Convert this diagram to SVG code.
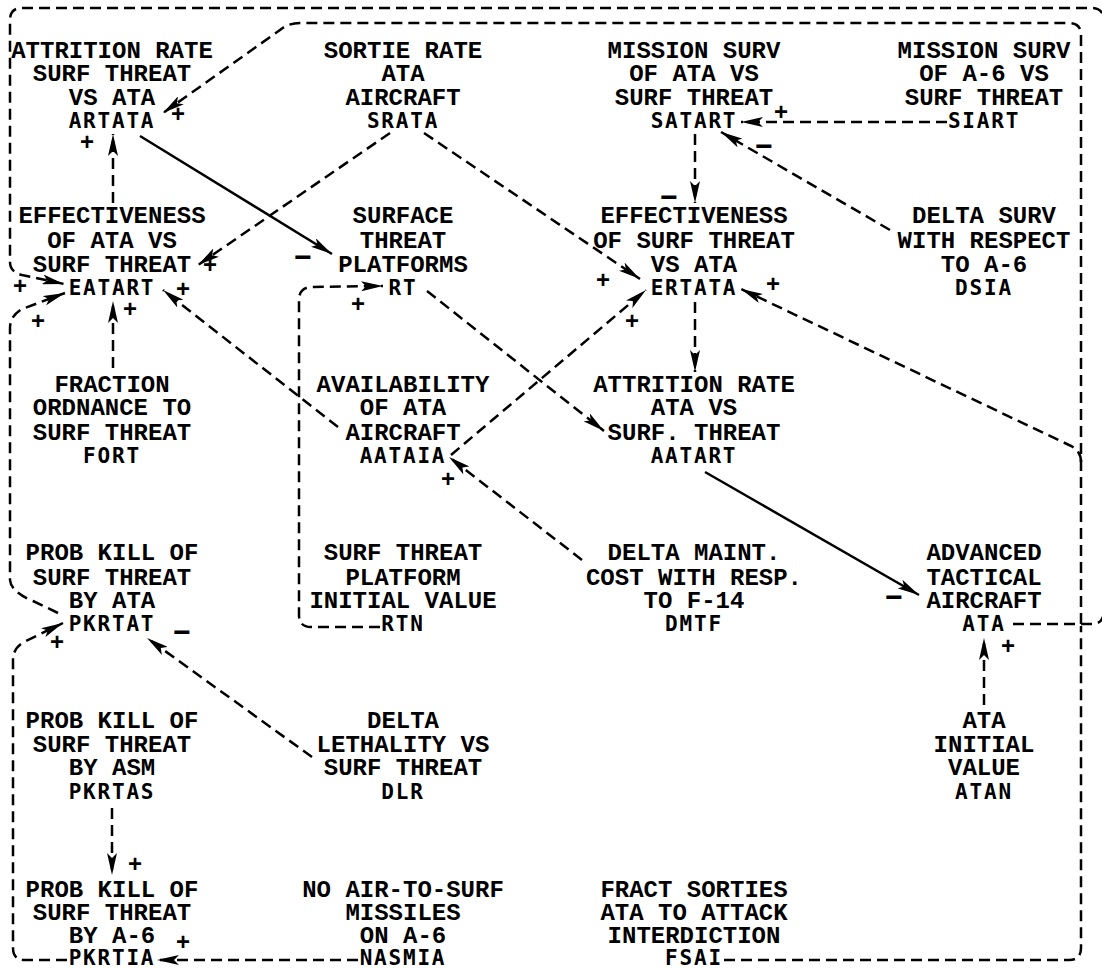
<svg xmlns="http://www.w3.org/2000/svg" width="1102" height="968" viewBox="0 0 1102 968">
<style>
.l{font-family:"Liberation Mono","Courier New",monospace;font-size:24px;font-weight:bold;text-anchor:middle;fill:#000}
.c{font-family:"DejaVu Sans Mono",monospace;font-size:21px;font-weight:bold;letter-spacing:1.8px;text-anchor:middle;fill:#000}
.d{fill:none;stroke:#000;stroke-width:2.5;stroke-dasharray:11 6}
.s{fill:none;stroke:#000;stroke-width:2.5}
.sg{font-family:"Liberation Sans",Arial,sans-serif;font-size:24px;font-weight:bold;text-anchor:middle;fill:#000}
.mn{font-family:"Liberation Sans",Arial,sans-serif;font-size:30px;font-weight:bold;text-anchor:middle;fill:#000}
</style>
<defs>
<marker id="ah" viewBox="0 0 22 10" refX="22" refY="5" markerWidth="22" markerHeight="10" markerUnits="userSpaceOnUse" orient="auto">
<path d="M0,0 L22,5 L0,10 L5,5 Z" fill="#000"/>
</marker>
</defs>
<rect width="1102" height="968" fill="#fff"/>

<g id="connectors">
<!-- outer loop ATA -> EATART -->
<path class="d" d="M1081,624 H1092 Q1103,624 1104,612 V20 Q1103,8 1092,8 H22 Q10,8 10,20 V262 Q10,272 22,275 L64,284" marker-end="url(#ah)"/>
<!-- inner loop ATA -> ARTATA -->
<path class="d" d="M1013,624 H1081 V35 Q1081,23 1069,23 H300 Q288,23 280,30 L163,113" marker-end="url(#ah)"/>
<!-- FSAI -> ERTATA -->
<path class="d" d="M724,960 H1069 Q1081,960 1081,948 V626 M1081,462 Q1081,450 1069,445 L741,289" marker-end="url(#ah)"/>
<!-- PKRTAT -> EATART -->
<path class="d" d="M58,613 L33,601 Q11,592 10,580 V328 Q10,316 22,309 L65,293" marker-end="url(#ah)"/>
<!-- PKRTIA -> PKRTAT -->
<path class="d" d="M67,960 H25 Q13,960 13,948 V660 Q13,648 24,642 L63,623" marker-end="url(#ah)"/>
<!-- NASMIA -> PKRTIA -->
<path class="d" d="M358,960 H157" marker-end="url(#ah)"/>
<!-- PKRTAS -> PKRTIA -->
<path class="d" d="M112,808 V875" marker-end="url(#ah)"/>
<!-- DLR -> PKRTAT -->
<path class="d" d="M312,757 L147,638" marker-end="url(#ah)"/>
<!-- DMTF -> AATAIA -->
<path class="d" d="M582,560 L449,457" marker-end="url(#ah)"/>
<!-- AATAIA -> ERTATA -->
<path class="d" d="M451,455 L646,290" marker-end="url(#ah)"/>
<!-- AATAIA -> EATART -->
<path class="d" d="M338,427 L163,290" marker-end="url(#ah)"/>
<!-- FORT -> EATART -->
<path class="d" d="M113,368 V301" marker-end="url(#ah)"/>
<!-- EATART -> ARTATA -->
<path class="d" d="M113,203 V134" marker-end="url(#ah)"/>
<!-- SRATA -> EATART -->
<path class="d" d="M390,133 L198,265" marker-end="url(#ah)"/>
<!-- SRATA -> ERTATA -->
<path class="d" d="M424,133 L640,279" marker-end="url(#ah)"/>
<!-- ARTATA -> RT (solid) -->
<path class="s" d="M140,136 L332,254" marker-end="url(#ah)"/>
<!-- RT -> AATART -->
<path class="d" d="M427,291 L604,431" marker-end="url(#ah)"/>
<!-- RTN -> RT -->
<path class="d" d="M380,627 H311 Q299,627 299,615 V300 Q299,288 311,287 L383,286" marker-end="url(#ah)"/>
<!-- SATART -> ERTATA -->
<path class="d" d="M695,134 V203" marker-end="url(#ah)"/>
<!-- SIART -> SATART -->
<path class="d" d="M947,122 H741" marker-end="url(#ah)"/>
<!-- DSIA -> SATART -->
<path class="d" d="M890,230 L721,132" marker-end="url(#ah)"/>
<!-- ERTATA -> AATART -->
<path class="d" d="M695,302 V372" marker-end="url(#ah)"/>
<!-- AATART -> ATA (solid) -->
<path class="s" d="M705,472 L919,595" marker-end="url(#ah)"/>
<!-- ATAN -> ATA -->
<path class="d" d="M984,705 V638" marker-end="url(#ah)"/>

<g id="signs">
<text class="sg" x="178" y="122">+</text>
<text class="sg" x="87" y="150">+</text>
<text class="mn" x="303" y="267">−</text>
<text class="sg" x="210" y="273">+</text>
<text class="sg" x="183" y="297">+</text>
<text class="sg" x="130" y="317">+</text>
<text class="sg" x="20" y="294">+</text>
<text class="sg" x="38" y="329">+</text>
<text class="sg" x="781" y="120">+</text>
<text class="mn" x="764" y="156">−</text>
<text class="mn" x="669" y="207">−</text>
<text class="sg" x="603" y="288">+</text>
<text class="sg" x="773" y="292">+</text>
<text class="sg" x="632" y="329">+</text>
<text class="sg" x="358" y="312">+</text>
<text class="sg" x="448" y="487">+</text>
<text class="mn" x="894" y="607">−</text>
<text class="sg" x="1008" y="654">+</text>
<text class="mn" x="182" y="642">−</text>
<text class="sg" x="57" y="650">+</text>
<text class="sg" x="135" y="872">+</text>
<text class="sg" x="183" y="950">+</text>
</g>
</g>

<g id="ARTATA"><text class="l"><tspan x="112" y="58">ATTRITION RATE</tspan><tspan x="112" y="81">SURF THREAT</tspan><tspan x="112" y="105">VS ATA</tspan></text><text class="c" x="112" y="128">ARTATA</text></g>
<g id="SRATA"><text class="l"><tspan x="403" y="58">SORTIE RATE</tspan><tspan x="403" y="81">ATA</tspan><tspan x="403" y="105">AIRCRAFT</tspan></text><text class="c" x="403" y="128">SRATA</text></g>
<g id="SATART"><text class="l"><tspan x="694" y="58">MISSION SURV</tspan><tspan x="694" y="81">OF ATA VS</tspan><tspan x="694" y="105">SURF THREAT</tspan></text><text class="c" x="694" y="128">SATART</text></g>
<g id="SIART"><text class="l"><tspan x="984" y="58">MISSION SURV</tspan><tspan x="984" y="81">OF A-6 VS</tspan><tspan x="984" y="105">SURF THREAT</tspan></text><text class="c" x="984" y="128">SIART</text></g>

<g id="EATART"><text class="l"><tspan x="112" y="223">EFFECTIVENESS</tspan><tspan x="112" y="248">OF ATA VS</tspan><tspan x="112" y="272">SURF THREAT</tspan></text><text class="c" x="112" y="295">EATART</text></g>
<g id="RT"><text class="l"><tspan x="403" y="223">SURFACE</tspan><tspan x="403" y="248">THREAT</tspan><tspan x="403" y="272">PLATFORMS</tspan></text><text class="c" x="403" y="295">RT</text></g>
<g id="ERTATA"><text class="l"><tspan x="694" y="223">EFFECTIVENESS</tspan><tspan x="694" y="248">OF SURF THREAT</tspan><tspan x="694" y="272">VS ATA</tspan></text><text class="c" x="694" y="295">ERTATA</text></g>
<g id="DSIA"><text class="l"><tspan x="984" y="223">DELTA SURV</tspan><tspan x="984" y="248">WITH RESPECT</tspan><tspan x="984" y="272">TO A-6</tspan></text><text class="c" x="984" y="295">DSIA</text></g>

<g id="FORT"><text class="l"><tspan x="112" y="392">FRACTION</tspan><tspan x="112" y="415">ORDNANCE TO</tspan><tspan x="112" y="440">SURF THREAT</tspan></text><text class="c" x="112" y="463">FORT</text></g>
<g id="AATAIA"><text class="l"><tspan x="403" y="392">AVAILABILITY</tspan><tspan x="403" y="415">OF ATA</tspan><tspan x="403" y="440">AIRCRAFT</tspan></text><text class="c" x="403" y="463">AATAIA</text></g>
<g id="AATART"><text class="l"><tspan x="694" y="392">ATTRITION RATE</tspan><tspan x="694" y="415">ATA VS</tspan><tspan x="694" y="440">SURF. THREAT</tspan></text><text class="c" x="694" y="463">AATART</text></g>

<g id="PKRTAT"><text class="l"><tspan x="112" y="560">PROB KILL OF</tspan><tspan x="112" y="585">SURF THREAT</tspan><tspan x="112" y="608">BY ATA</tspan></text><text class="c" x="112" y="631">PKRTAT</text></g>
<g id="RTN"><text class="l"><tspan x="403" y="560">SURF THREAT</tspan><tspan x="403" y="585">PLATFORM</tspan><tspan x="403" y="608">INITIAL VALUE</tspan></text><text class="c" x="403" y="631">RTN</text></g>
<g id="DMTF"><text class="l"><tspan x="694" y="560">DELTA MAINT.</tspan><tspan x="694" y="585">COST WITH RESP.</tspan><tspan x="694" y="608">TO F-14</tspan></text><text class="c" x="694" y="631">DMTF</text></g>
<g id="ATA"><text class="l"><tspan x="984" y="560">ADVANCED</tspan><tspan x="984" y="585">TACTICAL</tspan><tspan x="984" y="608">AIRCRAFT</tspan></text><text class="c" x="984" y="631">ATA</text></g>

<g id="PKRTAS"><text class="l"><tspan x="112" y="728">PROB KILL OF</tspan><tspan x="112" y="752">SURF THREAT</tspan><tspan x="112" y="775">BY ASM</tspan></text><text class="c" x="112" y="799">PKRTAS</text></g>
<g id="DLR"><text class="l"><tspan x="403" y="728">DELTA</tspan><tspan x="403" y="752">LETHALITY VS</tspan><tspan x="403" y="775">SURF THREAT</tspan></text><text class="c" x="403" y="799">DLR</text></g>
<g id="ATAN"><text class="l"><tspan x="984" y="728">ATA</tspan><tspan x="984" y="752">INITIAL</tspan><tspan x="984" y="775">VALUE</tspan></text><text class="c" x="984" y="799">ATAN</text></g>

<g id="PKRTIA"><text class="l"><tspan x="112" y="897">PROB KILL OF</tspan><tspan x="112" y="920">SURF THREAT</tspan><tspan x="112" y="943">BY A-6</tspan></text><text class="c" x="112" y="965">PKRTIA</text></g>
<g id="NASMIA"><text class="l"><tspan x="403" y="897">NO AIR-TO-SURF</tspan><tspan x="403" y="920">MISSILES</tspan><tspan x="403" y="943">ON A-6</tspan></text><text class="c" x="403" y="965">NASMIA</text></g>
<g id="FSAI"><text class="l"><tspan x="694" y="897">FRACT SORTIES</tspan><tspan x="694" y="920">ATA TO ATTACK</tspan><tspan x="694" y="943">INTERDICTION</tspan></text><text class="c" x="694" y="965">FSAI</text></g>
</svg>
